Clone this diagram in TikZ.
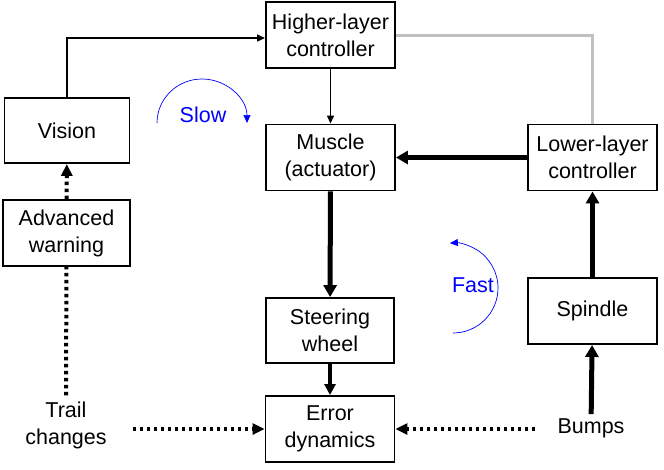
\documentclass[tikz,border=0pt]{standalone}
\usepackage{fontspec}
\setmainfont{Liberation Sans}
\usetikzlibrary{arrows.meta}
\definecolor{lgray}{RGB}{192,192,192}
\begin{document}
\begin{tikzpicture}[x=1pt,y=-1pt,
  box/.style={draw, line width=1.9pt, minimum width=129pt, minimum height=66pt, align=center, inner sep=0pt, font=\fontsize{21.5}{27}\selectfont},
  lbl/.style={align=center, inner sep=0pt, font=\fontsize{21.5}{27}\selectfont},
  bluelbl/.style={text=blue, inner sep=0pt, font=\fontsize{21.5}{27}\selectfont},
  thinarr/.style={line width=1.3pt, -{Triangle[length=8pt,width=7pt]}},
  thickarr/.style={line width=5pt, -{Triangle[length=12pt,width=13pt]}},
  medarr/.style={line width=3.5pt, -{Triangle[length=11pt,width=11pt]}},
  dots/.style={line width=4pt, dash pattern=on 3.5pt off 3.5pt},
  dotarr/.style={dots, -{Triangle[length=12pt,width=11pt]}},
  cyc/.style={blue, line width=0.7pt, -{Triangle[length=8pt,width=7pt]}},
]
\useasboundingbox (0,0) rectangle (664,469);

\node[box] (hl) at (330.5,35) {Higher-layer\\controller};
\node[box] (mu) at (330.5,157.5) {Muscle\\(actuator)};
\node[box] (ll) at (592.5,157.5) {Lower-layer\\controller};
\node[box, minimum width=125pt, minimum height=65pt] (vi) at (67,130.5) {Vision};
\node[box, minimum width=127pt] (aw) at (66.5,233) {Advanced\\warning};
\node[box, minimum width=128pt, minimum height=65pt] (sw) at (330,330.5) {Steering\\wheel};
\node[box] (ed) at (330,429) {Error\\dynamics};
\node[box] (sp) at (592.5,311) {Spindle};
\node[lbl] (tc) at (66,425) {Trail\\changes};
\node[lbl] (bu) at (591,428) {Bumps};
\node[bluelbl] (slow) at (203,115) {Slow};
\node[bluelbl] (fast) at (473,285) {Fast};

\draw[thinarr] (vi.north) |- ([yshift=-3pt]hl.west);
\draw[thinarr] (hl) -- (mu);
\draw[lgray, line width=3pt] (hl.east) -| (ll.north);
\draw[thickarr] (ll) -- (mu);
\draw[thickarr] (mu) -- (sw);
\draw[medarr] (sw) -- (ed);
\draw[thickarr] (sp) -- (ll);
\draw[thickarr, shorten <=4pt] (bu) -- (sp);
\draw[dotarr, shorten <=22pt] (bu.west |- ed.east) -- (ed.east);
\draw[dotarr, shorten <=26pt] (tc.east |- ed.west) -- (ed.west);
\draw[dots, shorten <=6pt] (tc) -- (aw);
\draw[dotarr] (aw) -- (vi);

\draw[cyc] (157,123) arc[start angle=180, end angle=360, x radius=45, y radius=44];
\draw[cyc] (453,333) arc[start angle=90, end angle=-94, radius=45];
\end{tikzpicture}
\end{document}
